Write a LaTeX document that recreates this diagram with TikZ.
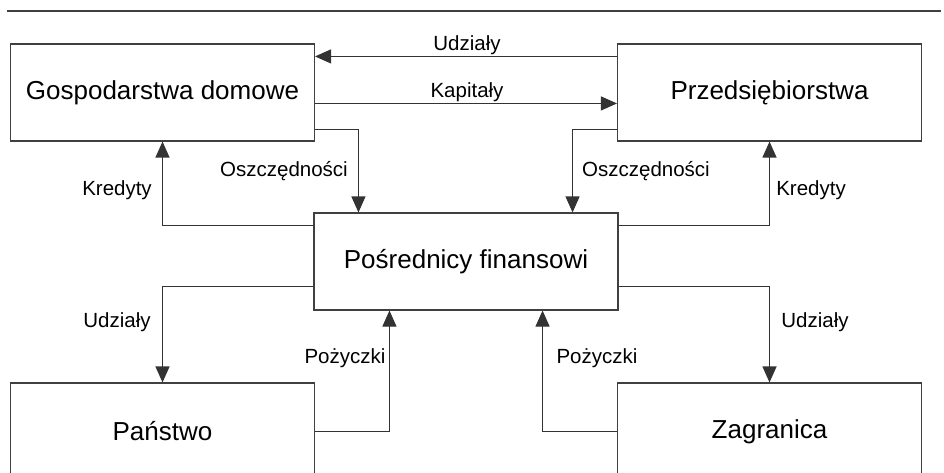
\documentclass[tikz,border=0pt]{standalone}
\usepackage{fontspec}
\setmainfont{Liberation Sans}
\usetikzlibrary{arrows.meta}
\begin{document}
\begin{tikzpicture}[x=1pt,y=-1pt,
  box/.style={draw=black!75,line width=1.1pt,minimum width=304pt,minimum height=97pt,inner sep=0pt,font=\fontsize{26}{30}\selectfont},
  lbl/.style={font=\fontsize{20.5}{24}\selectfont,inner sep=0pt},
  conn/.style={draw=black!80,line width=1.1pt},
  arr/.style={conn,-{Triangle[length=16pt,width=14pt]}}]
\useasboundingbox (0,0) rectangle (944,473);
\clip (0,0) rectangle (944,473);
\fill[white] (0,0) rectangle (944,473);
\coordinate (rl) at (7,11);
\coordinate (rr) at (941,11);
\draw[black!75,line width=1.1pt] (rl) -- (rr);
\node[box] (gd) at (162.5,92.5) {Gospodarstwa domowe};
\node[box] (pr) at (769.5,92.5) {Przedsiębiorstwa};
\node[box] (pf) at (466,261.5) {Pośrednicy finansowi};
\node[box] (pa) at (162.5,431.5) {Państwo};
\node[box] (za) at (769.5,431.5) {Zagranica};
% top arrows
\draw[arr] ([yshift=-13pt]pr.north west) -- ([yshift=-13pt]gd.north east);
\draw[arr] ([yshift=-60pt]gd.north east) -- ([yshift=-60pt]pr.north west);
\node[lbl] (l1) at (467,45) {Udziały};
\node[lbl] (l2) at (467,92) {Kapitały};
% savings
\draw[arr] ([yshift=12pt]gd.south east) -| ([xshift=45pt]pf.north west);
\draw[arr] ([yshift=12pt]pr.south west) -| ([xshift=-46pt]pf.north east);
\node[lbl] (l3) at (284,171) {Oszczędności};
\node[lbl] (l4) at (646,171) {Oszczędności};
% credits
\draw[arr] ([yshift=-13pt]pf.north west) -| (gd.south);
\draw[arr] ([yshift=-13pt]pf.north east) -| (pr.south);
\node[lbl] (l5) at (117,190) {Kredyty};
\node[lbl] (l6) at (811,190) {Kredyty};
% shares down
\draw[arr] ([yshift=24pt]pf.south west) -| (pa.north);
\draw[arr] ([yshift=24pt]pf.south east) -| (za.north);
\node[lbl] (l7) at (117,322) {Udziały};
\node[lbl] (l8) at (815,322) {Udziały};
% loans
\draw[arr] (pa.east) -| ([xshift=76pt]pf.south west);
\draw[arr] (za.west) -| ([xshift=-76pt]pf.south east);
\node[lbl] (l9) at (345,358) {Pożyczki};
\node[lbl] (l10) at (597,358) {Pożyczki};
\end{tikzpicture}
\end{document}
